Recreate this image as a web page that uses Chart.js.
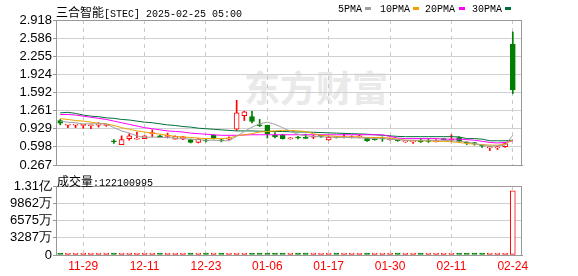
<!DOCTYPE html>
<html><head><meta charset="utf-8">
<script src="https://cdn.jsdelivr.net/npm/chart.js@4.4.1/dist/chart.umd.min.js"></script>
<style>
html,body{margin:0;padding:0;background:#fff;}
#wrap{position:relative;width:578px;height:276px;overflow:hidden;}
.t{position:absolute;white-space:nowrap;line-height:12px;color:#000;}
.cjk{font:12px 'Noto Sans CJK SC';}
.mono{font:10px 'Liberation Mono';}
.sw{position:absolute;width:6px;height:3px;}
canvas{position:absolute;left:0;}
</style></head><body>
<div id="wrap">
<div class="t" style="left:244px;top:66px;font:bold 36px 'Noto Sans CJK SC';color:#e9e9e9;line-height:40px;">东方财富</div>
<canvas id="c1" width="578" height="170" style="top:0"></canvas>
<canvas id="c2" width="578" height="106" style="top:170px"></canvas>
<div class="t" style="left:56px;top:3px;"><span class="cjk">三合智能</span><span class="mono">[STEC] 2025-02-25 05:00</span></div>
<div class="t mono" style="left:338px;top:4px;">5PMA</div><div class="sw" style="left:365px;top:7px;background:#a0a0a0"></div>
<div class="t mono" style="left:380px;top:4px;">10PMA</div><div class="sw" style="left:413px;top:7px;background:#f0a000"></div>
<div class="t mono" style="left:425px;top:4px;">20PMA</div><div class="sw" style="left:459px;top:7px;background:#ff00ff"></div>
<div class="t mono" style="left:472px;top:4px;">30PMA</div><div class="sw" style="left:505px;top:7px;background:#00703a"></div>
<div class="t" id="vt" style="left:57px;top:172px;"></div>
</div>
<script>
const dates = ['11-25','11-26','11-27','11-29','12-02','12-03','12-04','12-05','12-06','12-09',
'12-10','12-11','12-12','12-13','12-16','12-17','12-18','12-19','12-20','12-23',
'12-24','12-26','12-27','12-30','12-31','01-02','01-03','01-06','01-07','01-08',
'01-10','01-13','01-14','01-15','01-16','01-17','01-21','01-22','01-23','01-24',
'01-27','01-28','01-29','01-30','01-31','02-03','02-04','02-05','02-06','02-07',
'02-10','02-11','02-12','02-13','02-14','02-18','02-19','02-20','02-21','02-24'];
const openP = [1.08,0.995,0.995,0.99,0.985,0.995,0.99,0.71,0.64,0.75,
0.74,0.75,0.84,0.80,0.79,0.74,0.74,0.73,0.68,0.72,
0.81,0.72,0.74,0.92,1.17,1.15,0.995,0.99,0.81,0.82,
0.745,0.77,0.765,0.775,0.80,0.725,0.77,0.77,0.77,0.78,
0.76,0.74,0.755,0.73,0.72,0.69,0.69,0.70,0.71,0.69,
0.74,0.72,0.77,0.68,0.67,0.63,0.58,0.58,0.60,2.48];
const highP = [1.10,1.005,1.005,1.00,0.995,1.04,1.01,0.73,0.80,0.84,
0.87,0.80,0.91,0.81,0.85,0.80,0.79,0.74,0.75,0.74,
0.82,0.74,0.78,1.45,1.25,1.25,1.10,0.99,0.86,0.83,
0.77,0.79,0.83,0.81,0.81,0.79,0.78,0.84,0.80,0.82,
0.77,0.76,0.78,0.76,0.73,0.71,0.72,0.75,0.75,0.73,
0.75,0.82,0.78,0.69,0.68,0.64,0.61,0.61,0.68,2.70];
const lowP = [1.00,0.95,0.95,0.94,0.93,0.96,0.975,0.66,0.64,0.72,
0.74,0.75,0.78,0.77,0.76,0.74,0.73,0.67,0.67,0.69,
0.74,0.69,0.73,0.90,1.08,1.035,0.97,0.76,0.76,0.74,
0.74,0.745,0.75,0.75,0.77,0.72,0.76,0.76,0.76,0.77,
0.70,0.72,0.70,0.72,0.70,0.68,0.66,0.68,0.68,0.69,
0.72,0.70,0.69,0.64,0.63,0.59,0.53,0.55,0.59,1.57];
const closeP = [1.03,1.005,1.005,1.00,0.995,1.005,1.00,0.69,0.73,0.80,
0.75,0.80,0.85,0.78,0.80,0.79,0.78,0.68,0.74,0.705,
0.75,0.71,0.75,1.22,1.24,1.065,0.985,0.84,0.78,0.75,
0.765,0.76,0.755,0.785,0.79,0.775,0.765,0.78,0.78,0.79,
0.71,0.73,0.745,0.74,0.71,0.70,0.70,0.69,0.70,0.70,
0.73,0.73,0.70,0.67,0.66,0.61,0.59,0.59,0.66,1.64];
const volume = [900000,600000,500000,500000,600000,700000,500000,3500000,1200000,800000,
700000,600000,900000,600000,700000,500000,500000,800000,600000,500000,
800000,500000,600000,3800000,1500000,1200000,900000,1300000,800000,700000,
600000,500000,600000,600000,500000,700000,500000,600000,500000,600000,
900000,600000,700000,500000,600000,500000,600000,700000,600000,500000,
600000,900000,800000,700000,600000,900000,1000000,700000,800000,122100995];
const ma5 = [1.065,1.05,1.04,1.02,1.02,1.02,1.02,0.95,0.89,0.85,
0.80,0.77,0.78,0.77,0.77,0.76,0.75,0.74,0.73,0.72,
0.72,0.71,0.71,0.79,0.88,0.96,1.02,1.05,1.01,0.95,
0.88,0.83,0.80,0.79,0.78,0.78,0.77,0.77,0.77,0.76,
0.76,0.75,0.75,0.74,0.73,0.72,0.72,0.72,0.72,0.72,
0.72,0.71,0.70,0.69,0.66,0.63,0.61,0.62,0.63,0.81];
const ma10 = [1.115,1.10,1.08,1.07,1.05,1.03,1.02,0.99,0.95,0.92,
0.89,0.87,0.85,0.83,0.81,0.79,0.78,0.77,0.76,0.75,
0.75,0.75,0.76,0.80,0.82,0.84,0.87,0.88,0.89,0.90,
0.90,0.89,0.88,0.84,0.81,0.80,0.79,0.78,0.78,0.78,
0.77,0.77,0.77,0.76,0.74,0.72,0.71,0.71,0.71,0.70,
0.70,0.69,0.68,0.66,0.65,0.64,0.63,0.63,0.65,0.73];
const ma20 = [1.19,1.19,1.18,1.16,1.14,1.12,1.10,1.07,1.04,1.01,
0.98,0.95,0.93,0.91,0.89,0.88,0.87,0.85,0.84,0.83,
0.82,0.81,0.81,0.81,0.815,0.82,0.82,0.82,0.82,0.82,
0.82,0.82,0.82,0.82,0.82,0.82,0.82,0.82,0.82,0.82,
0.82,0.82,0.82,0.79,0.76,0.75,0.75,0.75,0.75,0.75,
0.74,0.74,0.74,0.73,0.72,0.70,0.68,0.67,0.68,0.71];
const ma30 = [1.22,1.23,1.21,1.18,1.16,1.15,1.13,1.12,1.10,1.09,
1.07,1.05,1.04,1.02,1.00,0.99,0.97,0.96,0.94,0.93,
0.92,0.91,0.90,0.89,0.89,0.89,0.885,0.885,0.88,0.88,
0.875,0.87,0.87,0.865,0.86,0.855,0.85,0.845,0.84,0.835,
0.83,0.82,0.81,0.80,0.79,0.785,0.785,0.785,0.785,0.785,
0.785,0.785,0.78,0.75,0.75,0.74,0.71,0.71,0.71,0.72];
const priceTicks = [2.918,2.586,2.255,1.924,1.592,1.261,0.929,0.598,0.267];
const priceTickLabels = ['2.918','2.586','2.255','1.924','1.592','1.261','0.929','0.598','0.267'];
const volTicks = [0,32875000,65750000,98625000,131500000];
const volTickLabels = ['0','3287万','6575万','9862万','1.31亿'];
const xTickLabels = ['11-29','12-11','12-23','01-06','01-17','01-30','02-11','02-24'];
const volTitleName = '成交量';
const volTitleValue = '122100995';

document.getElementById('vt').innerHTML = '<span class="cjk">'+volTitleName+'</span><span class="mono">:'+volTitleValue+'</span>';

const RED = '#ff0000', GREEN = '#008000';
const idx = dates.map((d, i) => i);
const up = i => closeP[i] >= openP[i];
const volUp = i => closeP[i] >= openP[i] || (i > 0 && closeP[i] > closeP[i-1]);
const xTickIdx = xTickLabels.map(l => dates.indexOf(l));

const frame = {
  id: 'frame',
  afterDraw(chart) {
    const {ctx, chartArea: a} = chart;
    const l = Math.round(a.left) + 0.5, r = Math.round(a.right) - 0.5;
    const t = Math.round(a.top) + 0.5, b = Math.round(a.bottom) + 0.5;
    ctx.save();
    ctx.strokeStyle = '#999';
    ctx.lineWidth = 1;
    ctx.strokeRect(l, t, r - l, b - t);
    ctx.restore();
  }
};

function xScale(showLabels) {
  return {
    type: 'linear', min: -0.55, max: 60.2, offset: false,
    afterBuildTicks: s => { s.ticks = xTickIdx.map(v => ({value: v})); },
    afterFit: s => { s.height = showLabels ? 21 : 0; s.paddingLeft = 0; s.paddingRight = 0; },
    grid: {color: '#c8c8c8', lineWidth: 1, drawTicks: false, offset: false},
    border: {display: true, color: '#999', dash: [4, 4]},
    ticks: {display: showLabels, autoSkip: false, maxRotation: 0, padding: 4, color: '#ff0000',
      font: {family: 'Liberation Sans', size: 12}, callback: v => dates[v]}
  };
}
function yScale(min, max, vals, labels) {
  return {
    type: 'linear', min: min, max: max,
    afterBuildTicks: s => { s.ticks = vals.map(v => ({value: v})); },
    afterFit: s => { s.width = 56; s.paddingTop = 0; s.paddingBottom = 0; },
    grid: {color: '#d0d0d0', lineWidth: 1, tickLength: 3, tickColor: '#999'},
    border: {display: true, color: '#999'},
    ticks: {autoSkip: false, padding: 1, color: '#000', font: {family: 'Liberation Sans', size: 13},
      callback: (v, i) => labels[i]}
  };
}
const maLine = (arr, color) => ({
  type: 'line', data: idx.map(i => ({x: i, y: arr[i]})), borderColor: color, borderWidth: 1,
  pointRadius: 0, tension: 0, fill: false
});

new Chart(document.getElementById('c1'), {
  type: 'bar',
  data: {
    datasets: [
      maLine(ma5, '#a0a0a0'),
      maLine(ma10, '#f0a000'),
      maLine(ma20, '#ff00ff'),
      maLine(ma30, '#00703a'),
      {
        type: 'bar', grouped: false, barThickness: 5, minBarLength: 1, borderSkipped: false,
        data: idx.map(i => ({x: i, y: [openP[i], closeP[i]]})),
        backgroundColor: c => up(c.dataIndex) ? '#ffffff' : GREEN,
        borderColor: c => up(c.dataIndex) ? RED : GREEN,
        borderWidth: 1
      },
      {
        type: 'bar', grouped: false, barThickness: 1, borderSkipped: false,
        data: idx.map(i => ({x: i, y: [lowP[i], highP[i]]})),
        backgroundColor: c => up(c.dataIndex) ? RED : GREEN,
        borderWidth: 0
      }
    ]
  },
  options: {
    responsive: false, animation: false, devicePixelRatio: 1,
    layout: {autoPadding: false, padding: {left: 0, right: 56, top: 20, bottom: 5}},
    plugins: {legend: {display: false}, tooltip: {enabled: false}},
    scales: {x: xScale(false), y: yScale(0.267, 2.918, priceTicks, priceTickLabels)}
  },
  plugins: [frame]
});

new Chart(document.getElementById('c2'), {
  type: 'bar',
  data: {
    datasets: [{
      type: 'bar', grouped: false, barThickness: 5, minBarLength: 2, borderSkipped: false,
      data: idx.map(i => ({x: i, y: volume[i]})),
      backgroundColor: c => volUp(c.dataIndex) ? '#ffffff' : GREEN,
      borderColor: c => volUp(c.dataIndex) ? RED : GREEN,
      borderWidth: 1
    }]
  },
  options: {
    responsive: false, animation: false, devicePixelRatio: 1,
    layout: {autoPadding: false, padding: {left: 0, right: 56, top: 16, bottom: 0}},
    plugins: {legend: {display: false}, tooltip: {enabled: false}},
    scales: {x: xScale(true), y: yScale(0, 131500000, volTicks, volTickLabels)}
  },
  plugins: [frame]
});
</script>
</body></html>
